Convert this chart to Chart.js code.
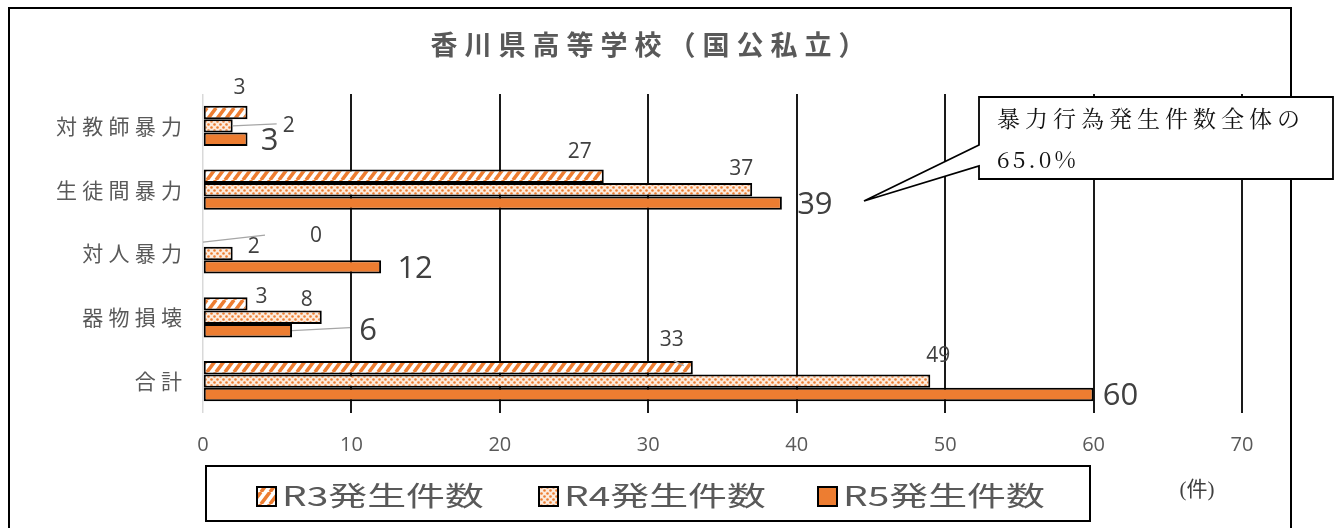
<!DOCTYPE html>
<html>
<head>
<meta charset="utf-8">
<script src="https://cdn.jsdelivr.net/npm/chart.js@4.4.0/dist/chart.umd.min.js"></script>
<style>
  html, body { margin: 0; padding: 0; background: #fff; }
  #wrap { position: relative; width: 1342px; height: 528px; }
  canvas { display: block; }
</style>
</head>
<body>
<div id="wrap"><canvas id="c" width="1342" height="528"></canvas></div>
<script>
// ---- data ----
const categories = ['対教師暴力', '生徒間暴力', '対人暴力', '器物損壊', '合計'];
const seriesNames = ['R3発生件数', 'R4発生件数', 'R5発生件数'];
const r3Counts = [3, 27, 0, 3, 33];
const r4Counts = [2, 37, 2, 8, 49];
const r5Counts = [3, 39, 12, 6, 60];
const xTickValues = [0, 10, 20, 30, 40, 50, 60, 70];
const chartTitle = '香川県高等学校（国公私立）';
const calloutLines = ['暴力行為発生件数全体の', '65.0%'];
const unitLabel = '(件)';

// ---- label placement (offsets from each bar's end, in px) ----
const labelOffsets = [
  [[-8, -24], [-24, -24], [113, -4], [14, -7], [-21, -28]],
  [[56, 0], [-11, -21], [21, -6], [-15, -17], [8, -25]],
  [[22, 2], [33, 2], [34, 2], [76, 0], [27, 2]]
];
// leader lines: [series, category, fromDx, fromDy, toDx, toDy]
const leaderLines = [
  [1, 0, 0, 0, 44, -2],
  [0, 2, 0, 2, 62, -5],
  [2, 3, 0, 0, 58, -3],
  [0, 4, -19, -7, -9, -2]
];

const ORANGE = '#ED7D31';
const TEXT_GRAY = '#595959';
const LABEL_GRAY = '#404040';

const canvas = document.getElementById('c');
const ctx = canvas.getContext('2d');

function hatchPattern() {
  const w = 9, h = 12;
  const c = document.createElement('canvas');
  c.width = w; c.height = h;
  const g = c.getContext('2d');
  g.fillStyle = '#fff';
  g.fillRect(0, 0, w, h);
  g.strokeStyle = ORANGE;
  g.lineWidth = 3.6;
  g.beginPath();
  for (let k = -1; k <= 1; k++) {
    g.moveTo(k * w, h);
    g.lineTo(k * w + w, 0);
  }
  g.stroke();
  return ctx.createPattern(c, 'repeat');
}

function dotPattern() {
  const s = 6;
  const c = document.createElement('canvas');
  c.width = s; c.height = s;
  const g = c.getContext('2d');
  g.fillStyle = '#FCEBDD';
  g.fillRect(0, 0, s, s);
  g.fillStyle = ORANGE;
  g.beginPath(); g.arc(1.5, 1.5, 1.3, 0, Math.PI * 2); g.fill();
  g.beginPath(); g.arc(4.5, 4.5, 1.3, 0, Math.PI * 2); g.fill();
  return ctx.createPattern(c, 'repeat');
}

const fills = [hatchPattern(), dotPattern(), ORANGE];

// widen CJK axis labels the way the sheet renders them
function spaced(str) {
  return Array.from(str).join('\u2005');
}

function drawSpacedText(c, text, x, y, spacing, align) {
  c.save();
  c.letterSpacing = spacing + 'px';
  const w = c.measureText(text).width - spacing;
  let sx = x;
  if (align === 'center') sx = x - w / 2;
  else if (align === 'right') sx = x - w;
  c.textAlign = 'left';
  c.fillText(text, sx, y);
  c.restore();
}

const framePlugin = {
  id: 'frame',
  beforeDraw(chart) {
    const c = chart.ctx;
    c.save();
    c.fillStyle = '#fff';
    c.fillRect(0, 0, chart.width, chart.height);
    c.strokeStyle = '#000';
    c.lineWidth = 2;
    c.strokeRect(9, 8, 1282, 540);
    c.restore();
  },
  afterDraw(chart) {
    const c = chart.ctx;
    // title
    c.save();
    c.fillStyle = TEXT_GRAY;
    c.font = 'bold 27px "Noto Sans CJK JP"';
    c.textBaseline = 'middle';
    drawSpacedText(c, chartTitle, 648, 45, 7, 'center');
    c.restore();

    // legend box
    c.save();
    c.strokeStyle = '#000';
    c.lineWidth = 2;
    c.strokeRect(206, 466, 884, 55);
    const markerX = [257, 539, 818];
    chart.data.datasets.forEach((ds, i) => {
      const mx = markerX[i], my = 487;
      c.fillStyle = ds.backgroundColor;
      c.fillRect(mx, my, 19, 19);
      c.lineWidth = 2;
      c.strokeStyle = '#000';
      c.strokeRect(mx, my, 19, 19);
      c.save();
      c.fillStyle = TEXT_GRAY;
      c.font = '27px "Noto Sans CJK JP"';
      c.textBaseline = 'middle';
      c.translate(mx + 25, 496);
      c.scale(1.44, 1);
      c.fillText(ds.label, 0, 0);
      c.restore();
    });
    c.restore();

    // unit
    c.save();
    c.fillStyle = LABEL_GRAY;
    c.font = '21px "Liberation Serif", "Noto Sans CJK JP"';
    c.textBaseline = 'middle';
    c.textAlign = 'center';
    c.fillText(unitLabel, 1197, 490);
    c.restore();

    // callout
    c.save();
    c.beginPath();
    c.moveTo(979, 97);
    c.lineTo(1333, 97);
    c.lineTo(1333, 179);
    c.lineTo(979, 179);
    c.lineTo(979, 166);
    c.lineTo(864, 201);
    c.lineTo(979, 145);
    c.closePath();
    c.fillStyle = '#fff';
    c.fill();
    c.strokeStyle = '#000';
    c.lineWidth = 1.8;
    c.stroke();
    c.fillStyle = '#111';
    c.font = '23px "Noto Serif CJK JP", "Liberation Serif", "Noto Sans CJK JP"';
    c.textBaseline = 'alphabetic';
    drawSpacedText(c, calloutLines[0], 997, 127, 5, 'left');
    drawSpacedText(c, calloutLines[1], 997, 168, 3, 'left');
    c.restore();
  }
};

const valueLabelPlugin = {
  id: 'valueLabels',
  afterDatasetsDraw(chart) {
    const c = chart.ctx;
    c.save();
    // leader lines
    c.strokeStyle = '#A6A6A6';
    c.lineWidth = 1.3;
    leaderLines.forEach(([s, k, fx, fy, tx, ty]) => {
      const el = chart.getDatasetMeta(s).data[k];
      c.beginPath();
      c.moveTo(el.x + fx, el.y + fy);
      c.lineTo(el.x + tx, el.y + ty);
      c.stroke();
    });
    c.textAlign = 'center';
    c.textBaseline = 'middle';
    c.fillStyle = LABEL_GRAY;
    chart.data.datasets.forEach((ds, s) => {
      const meta = chart.getDatasetMeta(s);
      c.font = s === 2 ? '31px "Open Sans"' : '21px "Open Sans"';
      meta.data.forEach((el, k) => {
        const [dx, dy] = labelOffsets[s][k];
        c.fillText(String(ds.data[k]), el.x + dx, el.y + dy);
      });
    });
    c.restore();
  }
};

new Chart(ctx, {
  type: 'bar',
  data: {
    labels: categories,
    datasets: [
      { label: seriesNames[0], data: r3Counts, backgroundColor: fills[0] },
      { label: seriesNames[1], data: r4Counts, backgroundColor: fills[1] },
      { label: seriesNames[2], data: r5Counts, backgroundColor: fills[2] }
    ]
  },
  options: {
    indexAxis: 'y',
    responsive: false,
    animation: false,
    devicePixelRatio: 1,
    layout: { padding: { top: 94, right: 100, left: 0, bottom: 0 } },
    datasets: {
      bar: {
        categoryPercentage: 0.63,
        barPercentage: 1,
        borderWidth: 2,
        borderColor: '#000',
        borderSkipped: false
      }
    },
    plugins: {
      legend: { display: false },
      title: { display: false },
      tooltip: { enabled: false }
    },
    scales: {
      x: {
        type: 'linear',
        min: 0,
        max: 70,
        afterBuildTicks: (scale) => { scale.ticks = xTickValues.map(v => ({ value: v })); },
        afterFit: (scale) => { scale.height = 115; },
        grid: {
          drawTicks: false,
          color: (c) => (c.tick && c.tick.value === 0 ? '#D9D9D9' : '#1A1A1A'),
          lineWidth: (c) => (c.tick && c.tick.value === 0 ? 1.5 : 2)
        },
        border: { display: false },
        ticks: {
          padding: 20,
          color: TEXT_GRAY,
          font: { family: '"Open Sans"', size: 20 }
        }
      },
      y: {
        afterFit: (scale) => { scale.width = 203; },
        grid: { display: false, drawTicks: false },
        border: { display: false },
        ticks: {
          padding: 21,
          color: TEXT_GRAY,
          font: { family: '"Noto Sans CJK JP"', size: 21 },
          callback: function (v) { return spaced(this.getLabelForValue(v)); }
        }
      }
    }
  },
  plugins: [framePlugin, valueLabelPlugin]
});
</script>
</body>
</html>
